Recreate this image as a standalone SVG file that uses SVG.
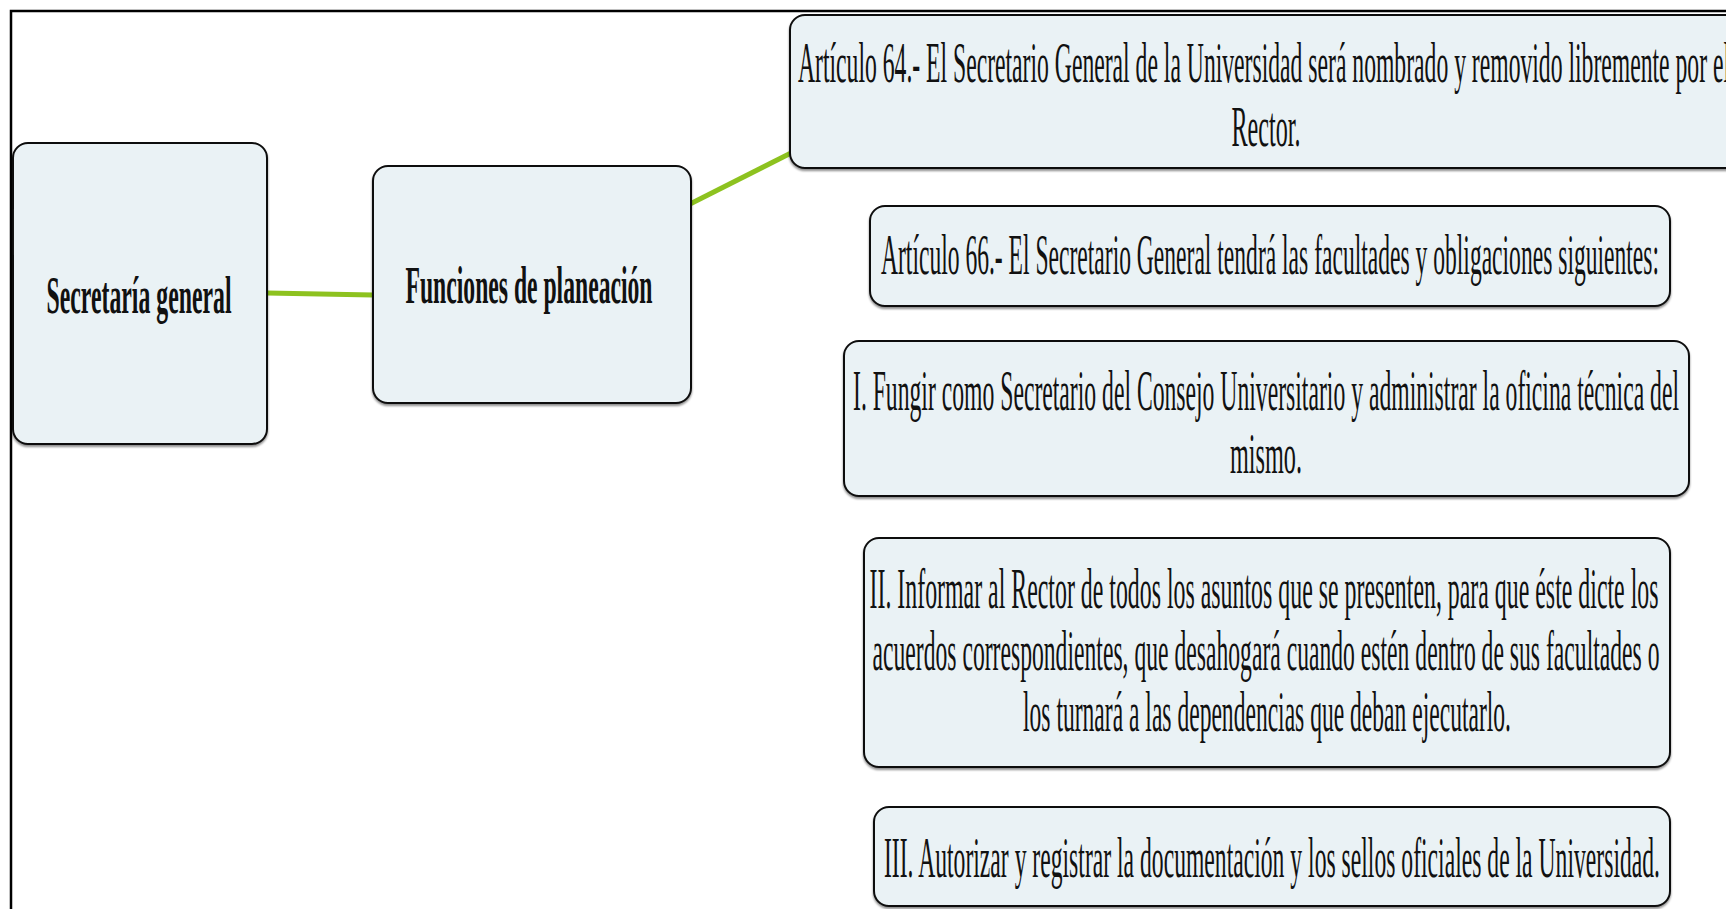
<svg xmlns="http://www.w3.org/2000/svg" width="1726" height="909" viewBox="0 0 1726 909">
<defs>
<filter id="sh" x="-5%" y="-5%" width="110%" height="115%">
<feDropShadow dx="0" dy="2" stdDeviation="1" flood-color="#000" flood-opacity="0.45"/>
</filter>
</defs>
<style>
.box{fill:#eaf2f5;stroke:#111;stroke-width:2;filter:url(#sh)}
.t{font-family:"Liberation Serif","Times New Roman",serif;font-size:58px;fill:#111;text-anchor:middle}
.b{font-family:"Liberation Serif","Times New Roman",serif;font-size:52px;font-weight:bold;fill:#111;text-anchor:middle}
.c{stroke:#8dc21f;stroke-width:5;fill:none;stroke-linecap:butt}
</style>
<rect width="1726" height="909" fill="#fff"/>
<path d="M11 909 V11 H1726" fill="none" stroke="#000" stroke-width="2.5"/>
<g id="connectors">
<line class="c" x1="267" y1="293" x2="373" y2="295"/>
<line class="c" x1="690" y1="204" x2="791" y2="153"/>
</g>
<g id="n-secretaria">
<rect class="box" x="13" y="143" width="254" height="301" rx="15"/>
<text class="b" x="139" y="313" textLength="185" lengthAdjust="spacingAndGlyphs">Secretaría general</text>
</g>
<g id="n-funciones">
<rect class="box" x="373" y="166" width="318" height="237" rx="15"/>
<text class="b" x="529" y="303" textLength="247" lengthAdjust="spacingAndGlyphs">Funciones de planeación</text>
</g>
<g id="n-art64">
<rect class="box" x="790" y="15" width="960" height="153" rx="15"/>
<text class="t" x="1264" y="82" textLength="932" lengthAdjust="spacingAndGlyphs">Artículo 64.- El Secretario General de la Universidad será nombrado y removido libremente por el</text>
<text class="t" x="1266" y="146" textLength="69" lengthAdjust="spacingAndGlyphs">Rector.</text>
</g>
<g id="n-art66">
<rect class="box" x="870" y="206" width="800" height="100" rx="15"/>
<text class="t" x="1270" y="274" textLength="778" lengthAdjust="spacingAndGlyphs">Artículo 66.- El Secretario General tendrá las facultades y obligaciones siguientes:</text>
</g>
<g id="n-i">
<rect class="box" x="844" y="341" width="845" height="155" rx="15"/>
<text class="t" x="1266" y="410" textLength="826" lengthAdjust="spacingAndGlyphs">I. Fungir como Secretario del Consejo Universitario y administrar la oficina técnica del</text>
<text class="t" x="1266" y="473" textLength="72" lengthAdjust="spacingAndGlyphs">mismo.</text>
</g>
<g id="n-ii">
<rect class="box" x="864" y="538" width="806" height="229" rx="15"/>
<text class="t" x="1264" y="608" textLength="789" lengthAdjust="spacingAndGlyphs">II. Informar al Rector de todos los asuntos que se presenten, para que éste dicte los</text>
<text class="t" x="1266" y="670" textLength="787" lengthAdjust="spacingAndGlyphs">acuerdos correspondientes, que desahogará cuando estén dentro de sus facultades o</text>
<text class="t" x="1267" y="731" textLength="488" lengthAdjust="spacingAndGlyphs">los turnará a las dependencias que deban ejecutarlo.</text>
</g>
<g id="n-iii">
<rect class="box" x="874" y="807" width="796" height="99" rx="15"/>
<text class="t" x="1272" y="877" textLength="776" lengthAdjust="spacingAndGlyphs">III. Autorizar y registrar la documentación y los sellos oficiales de la Universidad.</text>
</g>
</svg>
